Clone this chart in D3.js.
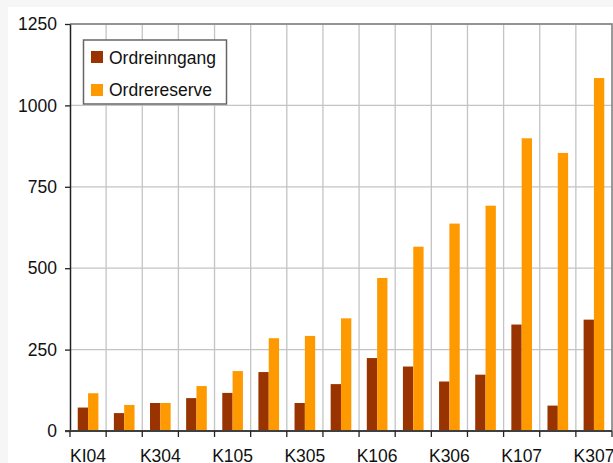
<!DOCTYPE html>
<html>
<head>
<meta charset="utf-8">
<script src="https://cdn.jsdelivr.net/npm/d3@7"></script>
<style>
  html, body { margin: 0; padding: 0; background: #f6f6f6; }
  svg { display: block; }
  text { font-family: "Liberation Sans", Arial, sans-serif; fill: #111; }
</style>
</head>
<body>
<svg id="chart" width="613" height="463"></svg>
<script>
const categories = ["KI04","K204","K304","K404","K105","K205","K305","K405","K106","K206","K306","K406","K107","K207","K307"];
const shownLabels = ["KI04","K304","K105","K305","K106","K306","K107","K307"];
const seriesNames = ["Ordreinngang","Ordrereserve"];
const ordreinngang = [72, 55, 86, 101, 117, 181, 86, 144, 224, 198, 152, 173, 327, 78, 342];
const ordrereserve = [116, 80, 86, 138, 184, 285, 292, 346, 470, 566, 637, 692, 899, 854, 1084];
const yTicks = [0, 250, 500, 750, 1000, 1250];
const colors = ["#993300", "#FF9900"];

const svg = d3.select("#chart");
const W = 613, H = 463;
const plot = {left: 70, right: 612, top: 24, bottom: 431};

svg.append("rect").attr("x", 8).attr("y", 7).attr("width", W).attr("height", H).attr("fill", "#ffffff");

const x = d3.scaleBand().domain(categories).range([plot.left, plot.right]).paddingInner(0).paddingOuter(0);
const xs = d3.scaleBand().domain(seriesNames).range([0, x.bandwidth()]).paddingInner(0).paddingOuter(0.75);
const y = d3.scaleLinear().domain([0, 1250]).range([plot.bottom, plot.top]);

const boundaries = categories.map(c => x(c)).concat([plot.right]);

// gridlines
const grid = svg.append("g");
grid.selectAll("line.h").data(yTicks.slice(1)).join("line")
  .attr("x1", plot.left).attr("x2", plot.right)
  .attr("y1", d => y(d)).attr("y2", d => y(d))
  .attr("stroke", "#c4c4c4").attr("stroke-width", 1.3);
grid.selectAll("line.v").data(boundaries.slice(1, -1)).join("line")
  .attr("x1", d => d).attr("x2", d => d)
  .attr("y1", plot.top).attr("y2", plot.bottom)
  .attr("stroke", "#c4c4c4").attr("stroke-width", 1.3);

// plot border top/right
svg.append("path")
  .attr("d", `M${plot.left},${plot.top}H${plot.right}V${plot.bottom}`)
  .attr("fill", "none").attr("stroke", "#808080").attr("stroke-width", 1.6);

// bars
const seriesData = [ordreinngang, ordrereserve];
seriesData.forEach((vals, si) => {
  svg.append("g").selectAll("rect").data(vals).join("rect")
    .attr("x", (d, i) => x(categories[i]) + xs(seriesNames[si]))
    .attr("width", xs.bandwidth())
    .attr("y", d => y(d))
    .attr("height", d => y(0) - y(d))
    .attr("fill", colors[si]);
});

// y axis
const yAxis = svg.append("g").attr("transform", `translate(${plot.left},0)`)
  .call(d3.axisLeft(y).tickValues(yTicks).tickFormat(d3.format("d")).tickSize(5).tickPadding(8).tickSizeOuter(0));
yAxis.select(".domain").attr("stroke", "#222").attr("stroke-width", 1.5);
yAxis.selectAll(".tick line").attr("stroke", "#222").attr("stroke-width", 1.3);
yAxis.selectAll("text").style("font-size", "17.5px").attr("fill", "#111");

// x axis
svg.append("line").attr("x1", plot.left - 5).attr("x2", plot.right)
  .attr("y1", plot.bottom).attr("y2", plot.bottom)
  .attr("stroke", "#404040").attr("stroke-width", 2);
svg.append("g").selectAll("line").data(boundaries).join("line")
  .attr("x1", d => d).attr("x2", d => d)
  .attr("y1", plot.bottom).attr("y2", plot.bottom + 6)
  .attr("stroke", "#222").attr("stroke-width", 1.3);
const xAxis = svg.append("g").attr("transform", `translate(0,${plot.bottom})`)
  .call(d3.axisBottom(x).tickValues(shownLabels).tickSize(0).tickPadding(0));
xAxis.select(".domain").remove();
xAxis.selectAll("text").attr("y", 31).attr("dy", 0).style("font-size", "17.5px").attr("fill", "#111");

// legend
const lg = svg.append("g");
lg.append("rect").attr("x", 83.5).attr("y", 40).attr("width", 143).attr("height", 64)
  .attr("fill", "#fff").attr("stroke", "#666").attr("stroke-width", 1.5);
seriesNames.forEach((name, i) => {
  lg.append("rect").attr("x", 91).attr("y", 51 + i * 33).attr("width", 12).attr("height", 12).attr("fill", colors[i]);
  lg.append("text").attr("x", 109).attr("y", 63.5 + i * 32.5).style("font-size", "17.5px").text(name);
});
</script>
</body>
</html>
